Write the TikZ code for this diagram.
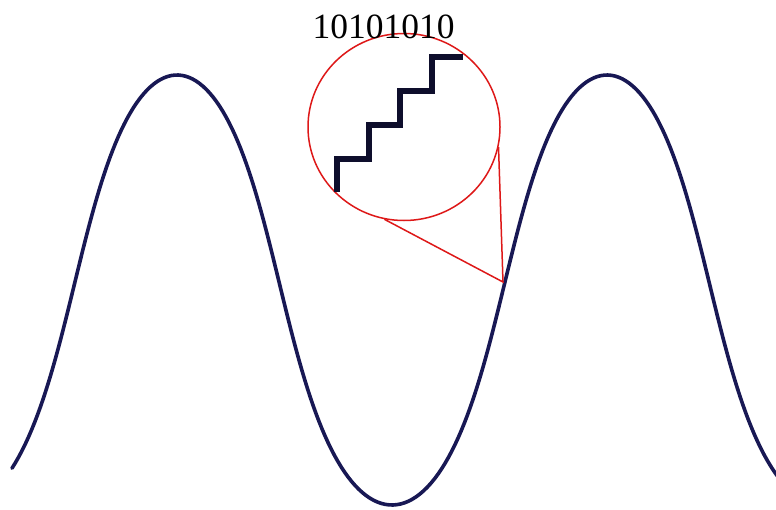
\documentclass[tikz,border=0pt]{standalone}
\usepackage{fontspec}
\setmainfont{Liberation Serif}
\usetikzlibrary{shapes.geometric}
\definecolor{wavecol}{RGB}{24,24,84}
\definecolor{stepcol}{RGB}{14,14,44}
\definecolor{zoomred}{RGB}{222,24,24}
\begin{document}
\begin{tikzpicture}[x=1pt,y=-1pt,
  wave/.style={draw=wavecol, line width=3.6pt, line cap=round},
  stairs/.style={draw=stepcol, line width=6pt, line join=miter},
  zoomline/.style={draw=zoomred, line width=1.5pt},
  lens/.style={ellipse, draw=zoomred, line width=1.5pt, minimum width=192pt, minimum height=187pt, inner sep=0pt},
  bits/.style={font=\fontsize{35.5}{40}\selectfont, inner sep=0pt, anchor=base}]
\fill[white] (0,0) rectangle (776,509);
\path[use as bounding box] (0,0) rectangle (776,509);
\draw[wave] plot[domain=-146:510, samples=260, variable=\t]
  ({177 + 1.19444*\t - 3.5*sin(\t) + 8*sin(2*\t)}, {290 - 215*cos(\t)});
\node[lens] (lens) at (404,127) {};
\node[bits] (bits) at (383.5,38) {10101010};
\coordinate (apex) at (503,282);
\draw[stairs] (337,191.5) -- (337,158.5) -- (368.6,158.5) -- (368.6,124.5) -- (400.2,124.5) -- (400.2,90.5) -- (431.8,90.5) -- (431.8,56.5) -- (463.4,56.5);
\draw[zoomline] (lens.-102) -- (apex) -- (lens.-12);
\end{tikzpicture}
\end{document}
